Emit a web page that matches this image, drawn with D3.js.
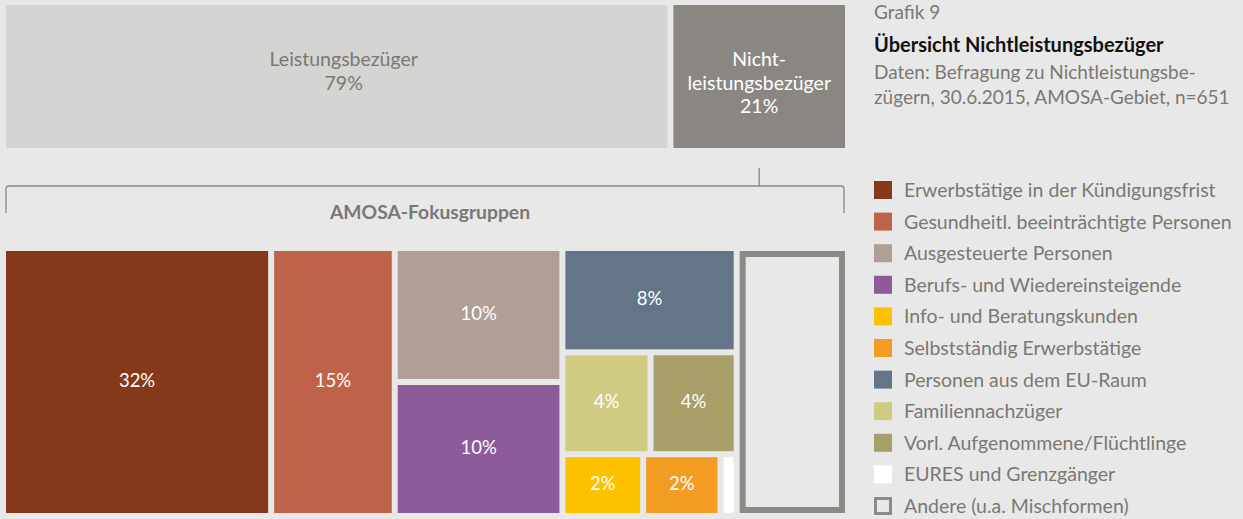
<!DOCTYPE html>
<html><head><meta charset="utf-8">
<script src="https://cdn.jsdelivr.net/npm/d3@7"></script>
<style>
html,body{margin:0;padding:0;background:#e8e8e8;}
svg{display:block;font-family:Lato, "Noto Sans", sans-serif;}
</style></head>
<body><svg id="c" width="1243" height="519"></svg>
<script>
// ---- data ----
const topCategories = ["Leistungsbezüger", "Nicht-\nleistungsbezüger"];
const topValues = [79.4, 20.6];
const topColors = ["#d4d4d2", "#8a8782"];
const topTextColors = ["#7b7873", "#ffffff"];

const groupNames = [
  "Erwerbstätige in der Kündigungsfrist",
  "Gesundheitl. beeinträchtigte Personen",
  "Ausgesteuerte Personen",
  "Berufs- und Wiedereinsteigende",
  "Info- und Beratungskunden",
  "Selbstständig Erwerbstätige",
  "Personen aus dem EU-Raum",
  "Familiennachzüger",
  "Vorl. Aufgenommene/Flüchtlinge",
  "EURES und Grenzgänger",
  "Andere (u.a. Mischformen)"
];
const groupValues = [32.1, 14.4, 9.9, 9.9, 2.2, 2.1, 8.1, 4.0, 3.9, 0.3, 12.9];
const groupColors = ["#86391a", "#be6349", "#b09f96", "#8d5b99", "#fdc100", "#f29c24",
                     "#647588", "#cfcb83", "#a89e68", "#ffffff", "none"];
const groupLabels = ["32%", "15%", "10%", "10%", "2%", "2%", "8%", "4%", "4%", "", ""];
// arrangement of the groups (indices): columns -> rows -> cells
const arrangement = [[[0]], [[1]], [[2], [3]], [[6], [7, 8], [4, 5, 9]], [[10]]];

const titleSmall = "Grafik 9";
const titleMain = "Übersicht Nichtleistungsbezüger";
const subtitle = ["Daten: Befragung zu Nichtleistungsbe-", "zügern, 30.6.2015, AMOSA-Gebiet, n=651"];
const bracketLabel = "AMOSA-Fokusgruppen";

// ---- layout ----
const svg = d3.select("#c");
const L = 6, R = 845, gap = 6;
const grey = "#7b7873";

// top bars
const topY0 = 5, topY1 = 148;
const topX = d3.scaleLinear().domain([0, d3.sum(topValues)]).range([0, (R - L) - gap * (topValues.length - 1)]);
let cum = 0;
topValues.forEach((v, i) => {
  const x0 = L + topX(cum) + i * gap;
  const w = topX(v);
  cum += v;
  svg.append("rect").attr("x", x0).attr("y", topY0).attr("width", w).attr("height", topY1 - topY0).attr("fill", topColors[i]);
  const lines = topCategories[i].split("\n").concat([Math.round(v) + "%"]);
  const lh = 23.5;
  const t = svg.append("text").attr("text-anchor", "middle").attr("fill", topTextColors[i]).style("font-size", "19.5px");
  lines.forEach((ln, j) => {
    t.append("tspan").attr("x", x0 + w / 2 + (i === 0 ? 7 : 0)).attr("y", 66 + j * lh).text(ln);
  });
});

// bracket
const nlX0 = L + topX(topValues[0]) + gap, nlW = topX(topValues[1]);
const bY = 186, bBottom = 213, r = 3;
const bp = d3.path();
bp.moveTo(L, bBottom); bp.lineTo(L, bY + r); bp.quadraticCurveTo(L, bY, L + r, bY);
bp.lineTo(R - 1 - r, bY); bp.quadraticCurveTo(R - 1, bY, R - 1, bY + r); bp.lineTo(R - 1, bBottom);
svg.append("path").attr("d", bp.toString()).attr("fill", "none").attr("stroke", "#8a8782").attr("stroke-width", 1.3);
svg.append("line").attr("x1", nlX0 + nlW / 2).attr("x2", nlX0 + nlW / 2).attr("y1", 168).attr("y2", bY)
  .attr("stroke", "#8a8782").attr("stroke-width", 1.3);
svg.append("text").attr("x", 430).attr("y", 219).attr("text-anchor", "middle").attr("fill", grey)
  .style("font-size", "19.3px").style("font-weight", "bold").text(bracketLabel);

// treemap of focus groups
const tmY0 = 251, tmY1 = 513;
const colSums = arrangement.map(col => d3.sum(col, row => d3.sum(row, k => groupValues[k])));
const colX = d3.scaleLinear().domain([0, d3.sum(colSums)]).range([0, (R - L) - gap * (arrangement.length - 1)]);
const cells = [];
let ccum = 0;
arrangement.forEach((col, ci) => {
  const cx0 = L + colX(ccum) + ci * gap, cw = colX(colSums[ci]);
  ccum += colSums[ci];
  const rowSums = col.map(row => d3.sum(row, k => groupValues[k]));
  const rowY = d3.scaleLinear().domain([0, d3.sum(rowSums)]).range([0, (tmY1 - tmY0) - gap * (col.length - 1)]);
  let rcum = 0;
  col.forEach((row, ri) => {
    const ry0 = tmY0 + rowY(rcum) + ri * gap, rh = rowY(rowSums[ri]);
    rcum += rowSums[ri];
    const cellX = d3.scaleLinear().domain([0, rowSums[ri]]).range([0, cw - gap * (row.length - 1)]);
    let kc = 0;
    row.forEach((k, ki) => {
      cells.push({k, x: cx0 + cellX(kc) + ki * gap, y: ry0, w: cellX(groupValues[k]), h: rh});
      kc += groupValues[k];
    });
  });
});
cells.forEach(c => {
  if (groupColors[c.k] === "none") {
    svg.append("rect").attr("x", c.x + 3).attr("y", c.y + 3).attr("width", c.w - 6).attr("height", c.h - 6)
      .attr("fill", "none").attr("stroke", "#8b8a85").attr("stroke-width", 6);
  } else {
    svg.append("rect").attr("x", c.x).attr("y", c.y).attr("width", c.w).attr("height", c.h).attr("fill", groupColors[c.k]);
  }
  if (groupLabels[c.k]) {
    svg.append("text").attr("x", c.x + c.w / 2).attr("y", c.y + c.h / 2 + 5).attr("text-anchor", "middle")
      .attr("fill", "#ffffff").style("font-size", "18.5px").text(groupLabels[c.k]);
  }
});

// titles
svg.append("text").attr("x", 874).attr("y", 19).attr("fill", grey).style("font-size", "19px").text(titleSmall);
svg.append("text").attr("x", 874).attr("y", 52).attr("fill", "#111").style("font-size", "20px").style("font-weight", "bold").text(titleMain);
subtitle.forEach((s, i) => svg.append("text").attr("x", 874).attr("y", 79 + i * 25).attr("fill", grey).style("font-size", "19px").text(s));

// legend
const legY = d3.scaleLinear().domain([0, groupNames.length - 1]).range([190, 506]);
groupNames.forEach((n, i) => {
  const y = legY(i);
  if (groupColors[i] === "none") {
    svg.append("rect").attr("x", 875.5).attr("y", y - 7.5).attr("width", 15).attr("height", 15)
      .attr("fill", "none").attr("stroke", "#8b8a85").attr("stroke-width", 3);
  } else {
    svg.append("rect").attr("x", 874).attr("y", y - 9).attr("width", 18).attr("height", 18).attr("fill", groupColors[i]);
  }
  svg.append("text").attr("x", 904).attr("y", y + 7).attr("fill", grey).style("font-size", "19.5px").text(n);
});
</script></body></html>
